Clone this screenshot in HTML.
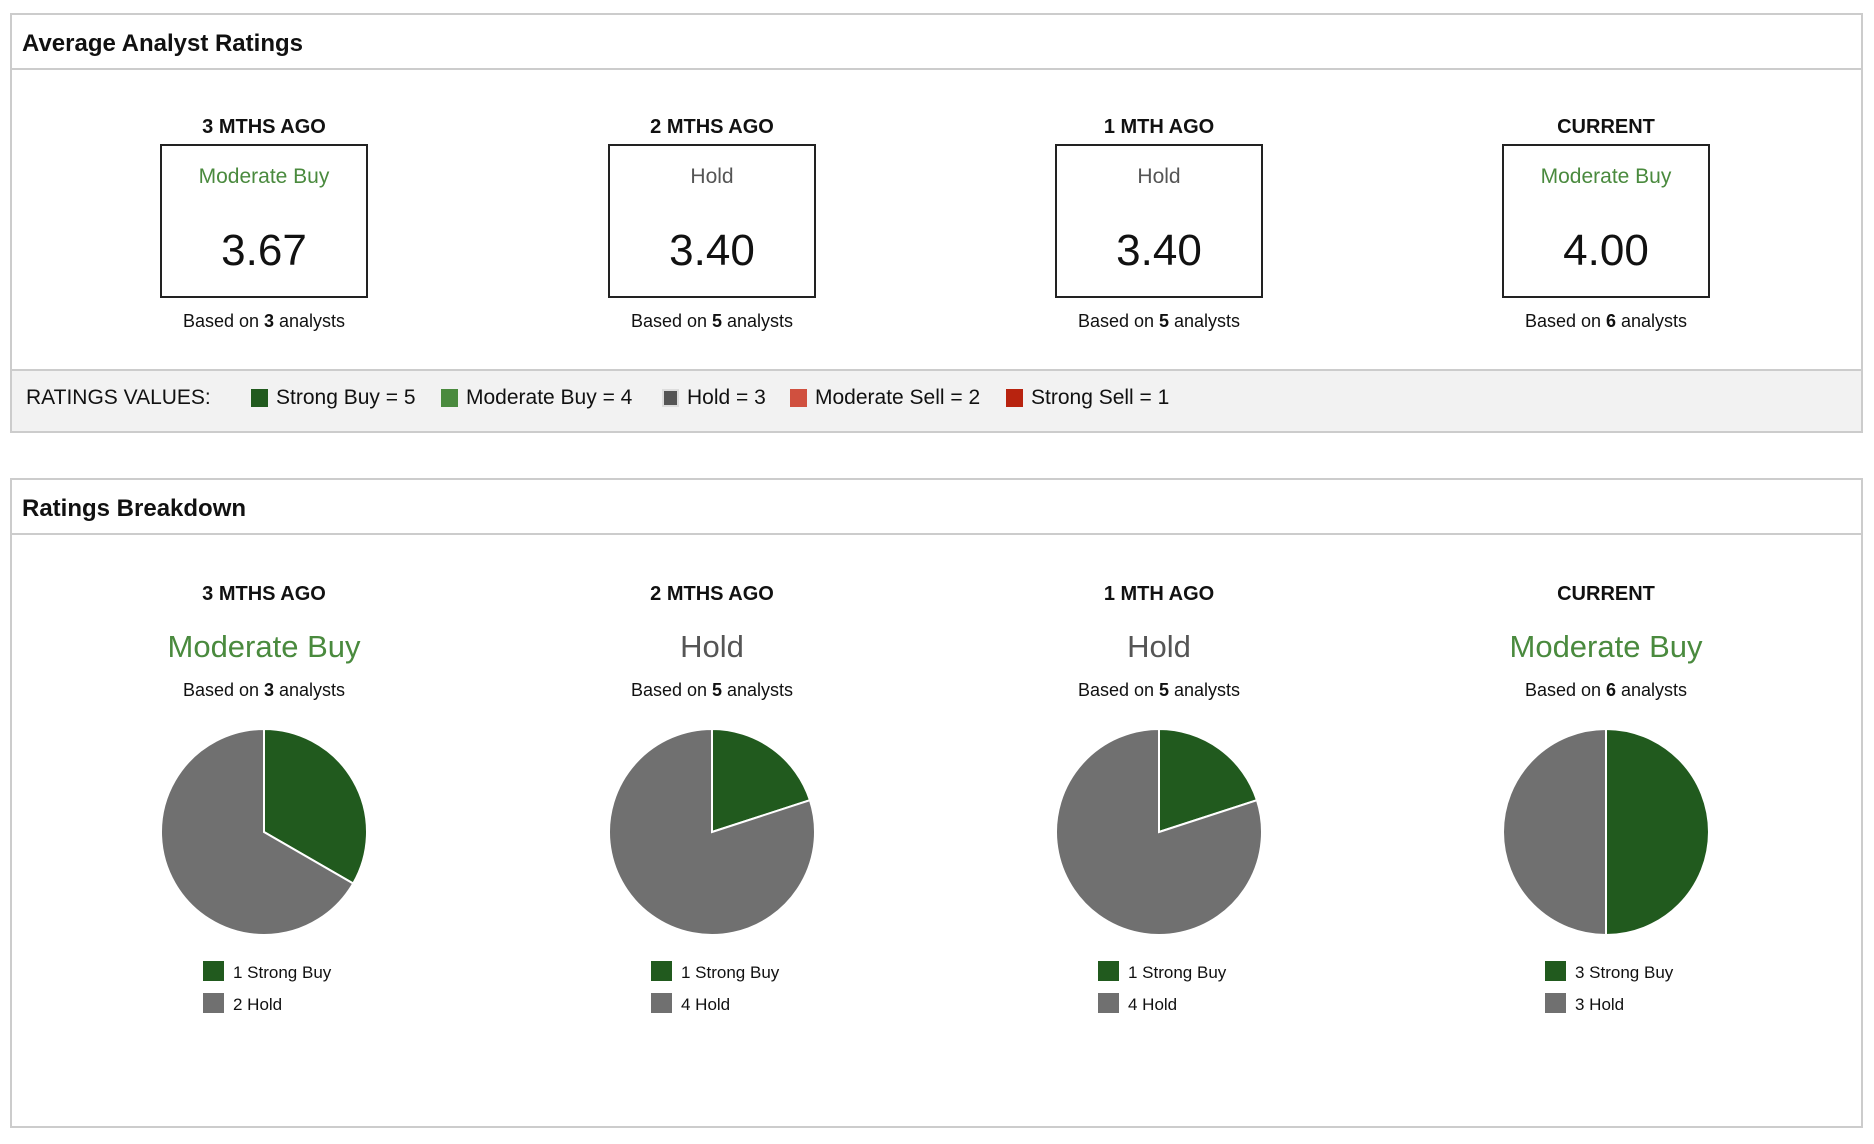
<!DOCTYPE html>
<html><head><meta charset="utf-8"><style>
*{margin:0;padding:0;box-sizing:border-box}
body{width:1874px;height:1144px;background:#fff;font-family:"Liberation Sans",sans-serif;color:#111;position:relative;overflow:hidden}
.abs{position:absolute}
.panel{position:absolute;border:2px solid #ccc;background:#fff}
.hdr{position:absolute;left:0;right:0;top:0;border-bottom:2px solid #ccc}
.hdr span{position:absolute;left:10px;font-weight:bold;font-size:24px}
.ctr{position:absolute;text-align:center;transform:translateX(-50%);white-space:nowrap}
.per{font-weight:bold;font-size:20px}
.box{position:absolute;width:208px;height:154px;border:2px solid #222;transform:translateX(-50%)}
.rt{font-size:21px}
.val{font-size:44px}
.based{font-size:18px}
.big{font-size:31px}
.lg{position:absolute;font-size:17px;white-space:nowrap}
.sq{position:absolute;width:21px;height:20px}
.kv{position:absolute;font-size:21px;white-space:nowrap;top:386px}
.ks{position:absolute;width:17px;height:18px;top:389px}
</style></head><body>
<div class="panel" style="left:10px;top:13px;width:1853px;height:420px">
  <div class="hdr" style="height:55px"><span style="top:15px">Average Analyst Ratings</span></div>
  <div class="abs" style="left:0;right:0;top:354px;bottom:0;background:#f2f2f2;border-top:2px solid #ccc"></div>
</div>
<div class="panel" style="left:10px;top:478px;width:1853px;height:650px">
  <div class="hdr" style="height:55px"><span style="top:15px">Ratings Breakdown</span></div>
</div>
<div class="kv" style="left:26px">RATINGS VALUES:</div>
<div class="ks" style="left:251px;background:#215a1e"></div>
<div class="kv" style="left:276px">Strong Buy = 5</div>
<div class="ks" style="left:441px;background:#4a8a3e"></div>
<div class="kv" style="left:466px">Moderate Buy = 4</div>
<div class="ks" style="left:662px;background:#555;border:2px solid #ddd"></div>
<div class="kv" style="left:687px">Hold = 3</div>
<div class="ks" style="left:790px;background:#d0503f"></div>
<div class="kv" style="left:815px">Moderate Sell = 2</div>
<div class="ks" style="left:1006px;background:#b8230f"></div>
<div class="kv" style="left:1031px">Strong Sell = 1</div>
<svg id="pies" class="abs" style="left:0;top:0" width="1874" height="1144"></svg>
<script>
const periods=["3 MTHS AGO","2 MTHS AGO","1 MTH AGO","CURRENT"];
const ratings=["Moderate Buy","Hold","Hold","Moderate Buy"];
const scores=["3.67","3.40","3.40","4.00"];
const analysts=[3,5,5,6];
const strongBuy=[1,1,1,3];
const hold=[2,4,4,3];
const centers=[264,712,1159,1606];
const rc={"Moderate Buy":"#4a8a3e","Hold":"#555"};
const body=document.body;
function div(cls,name,x,y,html,style){
  const d=document.createElement('div');d.className=cls;
  
  
  d.style.left=x+'px';d.style.top=y+'px';if(style)d.style.cssText+=style;d.innerHTML=html;body.appendChild(d);return d;}
const svg=document.getElementById('pies');const NS="http://www.w3.org/2000/svg";
periods.forEach((p,i)=>{
  const cx=centers[i];
  div('ctr per','period-label',cx,116,p);
  div('box','rating-box',cx,144,'');
  div('ctr rt','rating-text',cx,165,ratings[i],'color:'+rc[ratings[i]]);
  div('ctr val','rating-score',cx,226,scores[i]);
  div('ctr based','analyst-count',cx,311,'Based on <b>'+analysts[i]+'</b> analysts');
  div('ctr per','breakdown-period-label',cx,583,p);
  div('ctr big','breakdown-rating',cx,629,ratings[i],'color:'+rc[ratings[i]]);
  div('ctr based','breakdown-analyst-count',cx,680,'Based on <b>'+analysts[i]+'</b> analysts');
  const total=strongBuy[i]+hold[i];const r=103,cy=832;
  const vals=[strongBuy[i],hold[i]],cols=["#215a1e","#707070"],names=["pie-slice-strong-buy","pie-slice-hold"];
  let a0=-Math.PI/2;
  vals.forEach((v,k)=>{
    const a1=a0+v/total*2*Math.PI;
    const x0=cx+r*Math.cos(a0),y0=cy+r*Math.sin(a0),x1=cx+r*Math.cos(a1),y1=cy+r*Math.sin(a1);
    const large=(a1-a0)>Math.PI?1:0;
    const path=document.createElementNS(NS,'path');
    path.setAttribute('d',`M${cx},${cy}L${x0},${y0}A${r},${r} 0 ${large} 1 ${x1},${y1}Z`);
    path.setAttribute('fill',cols[k]);path.setAttribute('stroke','#fff');path.setAttribute('stroke-width','2');
    
    
    svg.appendChild(path);a0=a1;
  });
  const lx=cx-61;
  div('sq','legend-swatch-strong-buy',lx,961,'','background:#215a1e');
  div('lg','legend-strong-buy',lx+30,963,strongBuy[i]+' Strong Buy');
  div('sq','legend-swatch-hold',lx,993,'','background:#707070');
  div('lg','legend-hold',lx+30,995,hold[i]+' Hold');
});
</script>
</body></html>
